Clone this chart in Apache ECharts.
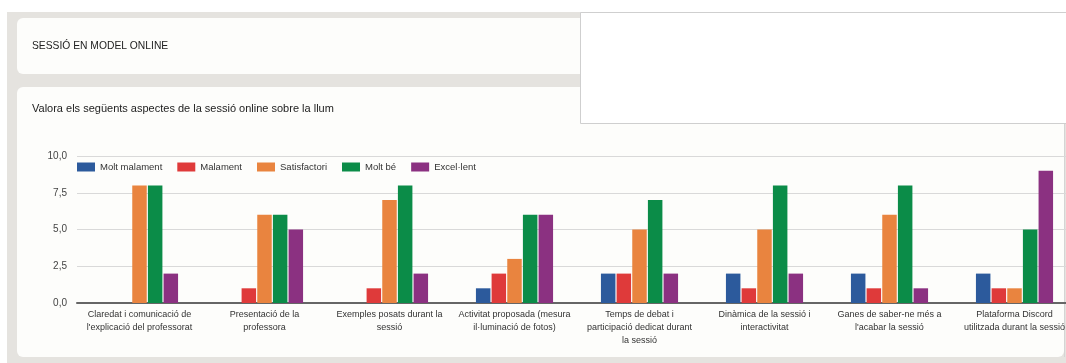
<!DOCTYPE html>
<html>
<head>
<meta charset="utf-8">
<script src="https://cdn.jsdelivr.net/npm/echarts@6/dist/echarts.min.js"></script>
<style>
  html, body { margin: 0; padding: 0; background: #ffffff; }
  #chart { width: 1066px; height: 363px; }
</style>
</head>
<body>
<div id="chart"></div>
<script>
// Survey results: online session ratings
const categories = [
  "Claredat i comunicació de\nl'explicació del professorat",
  "Presentació de la\nprofessora",
  "Exemples posats durant la\nsessió",
  "Activitat proposada (mesura\nil·luminació de fotos)",
  "Temps de debat i\nparticipació dedicat durant\nla sessió",
  "Dinàmica de la sessió i\ninteractivitat",
  "Ganes de saber-ne més a\nl'acabar la sessió",
  "Plataforma Discord\nutilitzada durant la sessió"
];
const seriesNames = ["Molt malament", "Malament", "Satisfactori", "Molt bé", "Excel·lent"];
const moltMalament = [0, 0, 0, 1, 2, 2, 2, 2];
const malament     = [0, 1, 1, 2, 2, 1, 1, 1];
const satisfactori = [8, 6, 7, 3, 5, 5, 6, 1];
const moltBe       = [8, 6, 8, 6, 7, 8, 8, 5];
const excellent    = [2, 5, 2, 6, 2, 2, 1, 9];
const yTicks = [0, 2.5, 5, 7.5, 10];

const colors = ["#2c5a9c", "#df3a3a", "#e9843f", "#0b8c48", "#8b3181"];
const seriesData = [moltMalament, malament, satisfactori, moltBe, excellent];
const FONT = "Liberation Sans, Arial, sans-serif";

const chart = echarts.init(document.getElementById('chart'), null, { renderer: 'canvas' });

chart.setOption({
  animation: false,
  textStyle: { fontFamily: FONT },
  graphic: [
    // page background and cards
    { type: 'rect', z: -10, shape: { x: 7, y: 12, width: 1059, height: 351 }, style: { fill: '#e5e3df' } },
    { type: 'rect', z: -9, shape: { x: 17, y: 18, width: 620, height: 56, r: 6 }, style: { fill: '#fdfdfb' } },
    { type: 'rect', z: -9, shape: { x: 17, y: 87, width: 1047, height: 270, r: 6 }, style: { fill: '#fdfdfb' } },
    { type: 'line', z: -8, shape: { x1: 1064.5, y1: 124, x2: 1064.5, y2: 357 }, style: { stroke: '#d4d4d4', lineWidth: 1 } },
    { type: 'rect', z: -8, shape: { x: 580.5, y: 12.5, width: 490, height: 111 }, style: { fill: '#ffffff', stroke: '#cfcfcf', lineWidth: 1 } },
    { type: 'text', z: 5, style: { x: 32, y: 46, text: 'SESSIÓ EN MODEL ONLINE', fill: '#222', font: '10.3px ' + FONT, verticalAlign: 'middle' } },
    { type: 'text', z: 5, style: { x: 32, y: 109, text: 'Valora els següents aspectes de la sessió online sobre la llum', fill: '#222', font: '11px ' + FONT, verticalAlign: 'middle' } }
  ],
  legend: {
    data: seriesNames,
    left: 72,
    top: 157,
    itemWidth: 18,
    itemHeight: 9,
    itemGap: 15,
    icon: 'rect',
    textStyle: { fontSize: 9.5, color: '#333', fontFamily: FONT }
  },
  grid: { left: 77, width: 1000, top: 156, bottom: 60, containLabel: false, outerBoundsMode: 'none' },
  xAxis: {
    type: 'category',
    data: categories,
    axisTick: { show: false },
    axisLine: { lineStyle: { color: '#666', width: 2 } },
    axisLabel: {
      interval: 0,
      fontSize: 9,
      color: '#333',
      lineHeight: 13,
      margin: 5,
      fontFamily: FONT
    }
  },
  yAxis: {
    type: 'value',
    min: 0,
    max: 10,
    interval: 2.5,
    axisLine: { show: false },
    axisTick: { show: false },
    splitLine: { lineStyle: { color: '#d9d9d9', width: 1 } },
    axisLabel: {
      fontSize: 10,
      color: '#444',
      margin: 10,
      fontFamily: FONT,
      formatter: v => yTicks.includes(v) ? v.toFixed(1).replace('.', ',') : ''
    }
  },
  series: seriesNames.map((name, i) => ({
    name,
    type: 'bar',
    data: seriesData[i],
    itemStyle: { color: colors[i] },
    barWidth: 14.5,
    barGap: '8%',
    barCategoryGap: '36%'
  }))
});
</script>
</body>
</html>
